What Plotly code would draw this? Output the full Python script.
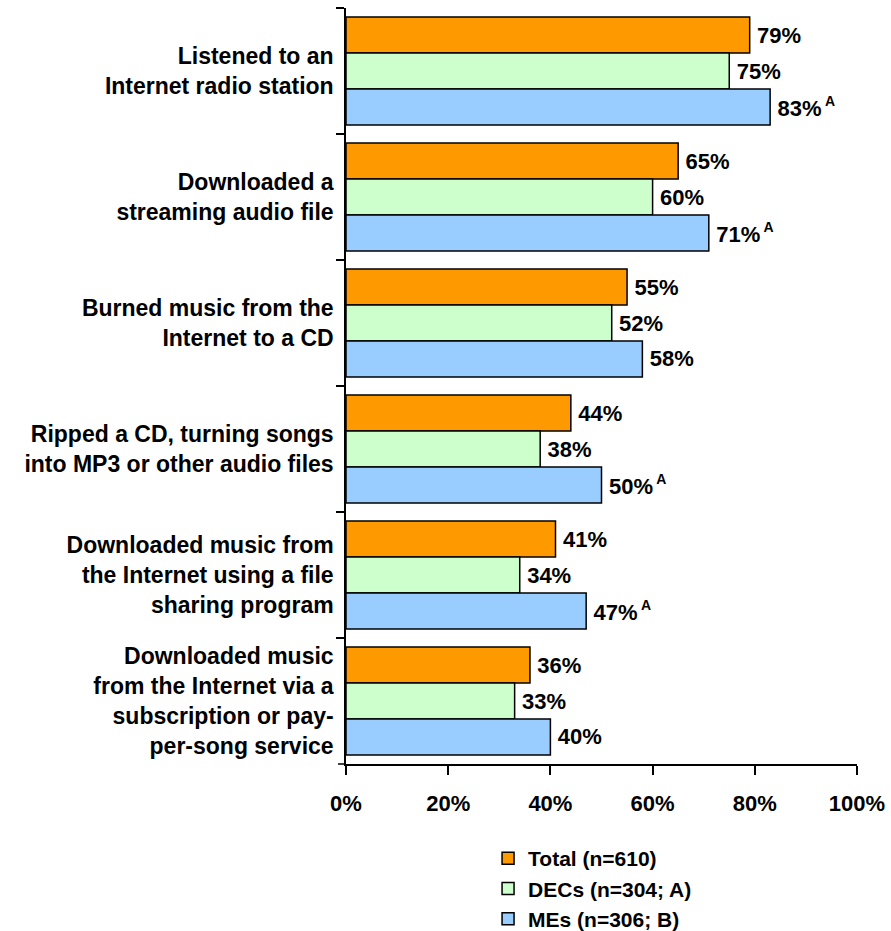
import plotly.graph_objects as go

categories = [
    "Listened to an<br>Internet radio station",
    "Downloaded a<br>streaming audio file",
    "Burned music from the<br>Internet to a CD",
    "Ripped a CD, turning songs<br>into MP3 or other audio files",
    "Downloaded music from<br>the Internet using a file<br>sharing program",
    "Downloaded music<br>from the Internet via a<br>subscription or pay-<br>per-song service",
]
total = [79, 65, 55, 44, 41, 36]
decs = [75, 60, 52, 38, 34, 33]
mes = [83, 71, 58, 50, 47, 40]
mes_sig = ["A", "A", "", "A", "A", ""]

series = [
    ("Total (n=610)", total, "#FF9900", None),
    ("DECs (n=304; A)", decs, "#CCFFCC", None),
    ("MEs (n=306; B)", mes, "#99CCFF", mes_sig),
]

FONT = "Liberation Sans, Arial, sans-serif"

fig = go.Figure()
for name, vals, color, sig in series:
    texts = []
    for i, v in enumerate(vals):
        t = f"\u2009{v}%"
        if sig and sig[i]:
            t += f"<sup><span style='font-size:14px'> {sig[i]}</span></sup>"
        texts.append(t)
    fig.add_trace(go.Bar(
        name=name,
        y=categories,
        x=vals,
        orientation="h",
        marker=dict(color=color, line=dict(color="black", width=1.5)),
        text=texts,
        textposition="outside",
        textfont=dict(family=FONT, size=22, color="black", weight="bold"),
        cliponaxis=False,
    ))

# short stub of the value axis line to the left of zero
fig.add_shape(type="line", xref="paper", yref="paper",
              x0=-8 / 511, x1=0, y0=0, y1=0,
              line=dict(color="black", width=1.5))

fig.update_layout(
    width=891,
    height=931,
    margin=dict(l=346, r=34, t=8, b=167, autoexpand=False),
    paper_bgcolor="white",
    plot_bgcolor="white",
    barmode="group",
    bargap=0.143,
    bargroupgap=0,
    font=dict(family=FONT, size=21, color="black", weight="bold"),
    legend=dict(
        x=0.278, y=-0.098, xanchor="left", yanchor="top",
        orientation="v", traceorder="normal",
        font=dict(family=FONT, size=21, color="black", weight="bold"),
        tracegroupgap=0,
    ),
    xaxis=dict(
        range=[0, 100], dtick=20, ticksuffix="%",
        showgrid=False, zeroline=False,
        showline=True, linecolor="black", linewidth=1.5,
        ticks="outside", ticklen=9, tickwidth=1.5, tickcolor="black",
        ticklabelstandoff=10,
        tickfont=dict(family=FONT, size=22, color="black", weight="bold"),
    ),
    yaxis=dict(
        autorange="reversed",
        showgrid=False, zeroline=False,
        showline=True, linecolor="black", linewidth=1.5,
        ticks="outside", ticklen=8, tickwidth=1.5, tickcolor="black",
        tickson="boundaries",
        ticklabelstandoff=6,
        tickfont=dict(family=FONT, size=23, color="black", weight="bold"),
    ),
)

fig.write_html("out.html")
